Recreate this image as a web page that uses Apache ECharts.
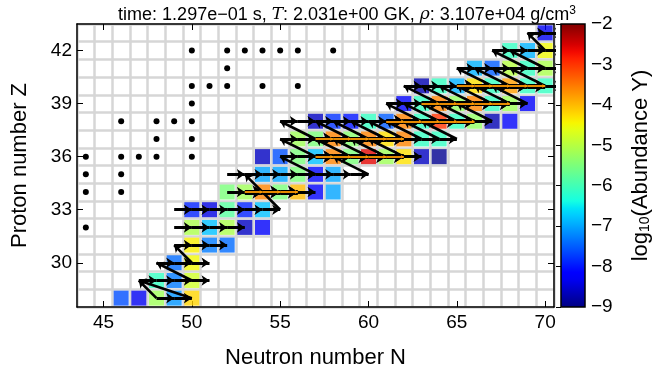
<!DOCTYPE html>
<html>
<head>
<meta charset="utf-8">
<script src="https://cdn.jsdelivr.net/npm/echarts@6/dist/echarts.min.js"></script>
<style>
  html, body { margin: 0; padding: 0; background: #fff; }
  #chart { width: 664px; height: 382px; }
</style>
</head>
<body>
<div id="chart"></div>
<script>
// abundance cells: neutron number, proton number, log10(Y)
const cellN = [46, 47, 48, 49, 50,  48, 49, 50,  49, 50,  50, 51, 52,
  50, 51, 52, 53, 54,  50, 51, 52, 53, 54,  52, 53, 54, 55, 56, 57, 58,
  54, 55, 56, 57, 58,  54, 55, 56, 57, 58, 59, 60, 61, 62, 63, 64,
  56, 57, 58, 59, 60, 61, 62, 63, 64,  57, 58, 59, 60, 61, 62, 63, 64, 65, 66, 67, 68,
  62, 63, 64, 65, 66, 67, 68, 69,  63, 64, 65, 66, 67, 68, 69, 70,
  66, 67, 68, 69, 70,  68, 69, 70,  70]
const cellZ = [28, 28, 28, 28, 28,  29, 29, 29,  30, 30,  31, 31, 31,
  32, 32, 32, 32, 32,  33, 33, 33, 33, 33,  34, 34, 34, 34, 34, 34, 34,
  35, 35, 35, 35, 35,  36, 36, 36, 36, 36, 36, 36, 36, 36, 36, 36,
  37, 37, 37, 37, 37, 37, 37, 37, 37,  38, 38, 38, 38, 38, 38, 38, 38, 38, 38, 38, 38,
  39, 39, 39, 39, 39, 39, 39, 39,  40, 40, 40, 40, 40, 40, 40, 40,
  41, 41, 41, 41, 41,  42, 42, 42,  43]
const cellLogY = [-7.6, -8.3, -5.2, -7.1, -4.2,  -6.1, -7.3, -4.8,  -7.4, -4.5,  -4.4, -7.3, -7.4,
  -5.1, -6.8, -5.1, -8.6, -8.2,  -7.9, -8.4, -5.8, -7.9, -6.8,  -5.5, -5.2, -3.6, -5.5, -4.0, -8.2, -7.0,
  -7.0, -7.0, -5.5, -8.1, -7.0,  -8.6, -7.6, -5.5, -6.8, -3.6, -5.5, -2.6, -5.2, -4.3, -8.6, -8.9,
  -5.2, -5.5, -3.6, -5.4, -3.6, -4.3, -3.6, -6.1, -6.1,  -8.6, -7.8, -8.0, -6.1, -7.5, -3.6, -6.1, -3.0, -6.1, -5.3, -8.7, -8.2,
  -8.2, -6.1, -3.6, -5.3, -3.6, -6.1, -5.2, -8.2,  -8.7, -6.1, -6.9, -4.3, -6.1, -3.8, -6.1, -6.1,
  -6.9, -7.5, -5.0, -6.1, -5.1,  -6.1, -6.9, -4.5,  -8.3]

// stable nuclei (black dots)
const stableN = [44, 46, 47, 48, 50, 48, 50, 46, 48, 49, 50, 50, 50, 51, 52, 54, 56, 52,
  50, 52, 53, 54, 55, 56, 58, 44, 46, 44, 46, 44]
const stableZ = [36, 36, 36, 36, 36, 37, 37, 38, 38, 38, 38, 39, 40, 40, 40, 40, 40, 41,
  42, 42, 42, 42, 42, 42, 42, 35, 35, 34, 34, 32]

// neutron-capture flow rows: proton number, first and last N
const ngZ    = [28, 29, 30, 31, 32, 33, 34, 35, 36, 37, 38, 39, 40, 41, 42, 43]
const ngFrom = [48, 47, 48, 49, 49, 49, 52, 52, 55, 55, 55, 61, 62, 65, 67, 69]
const ngTo   = [50, 51, 51, 52, 53, 55, 57, 60, 63, 65, 67, 69, 71, 71, 71, 71]

// strongest neutron-capture flows (drawn with a filled body)
const strongZ    = [34, 36, 37, 38, 39, 40]
const strongFrom = [53, 57, 57, 61, 63, 65]
const strongTo   = [56, 62, 62, 66, 68, 70]

// decay flows (beta, beta-n, beta-2n): parent N, Z -> daughter N, Z
const decN0 = [48, 50, 50, 50, 55, 57, 60, 57, 59, 60, 61, 62,
  57, 59, 60, 61, 62, 63, 64, 65,  63, 64, 65, 66, 67,
  64, 65, 66, 67, 68, 69,  67, 68, 69, 70,  69, 70,  70]
const decZ0 = [28, 28, 29, 30, 33, 35, 35, 36, 36, 36, 36, 36,
  37, 37, 37, 37, 37, 37, 37, 37,  38, 38, 38, 38, 38,
  39, 39, 39, 39, 39, 39,  40, 40, 40, 40,  41, 41,  42]
const decN1 = [47, 47, 48, 49, 53, 55, 58, 55, 57, 58, 59, 60,
  55, 57, 58, 59, 60, 61, 62, 63,  61, 62, 63, 64, 65,
  62, 63, 64, 65, 66, 67,  65, 66, 67, 68,  67, 68,  69]
const decZ1 = [29, 29, 30, 31, 35, 36, 36, 37, 37, 37, 37, 37,
  38, 38, 38, 38, 38, 38, 38, 38,  39, 39, 39, 39, 39,
  40, 40, 40, 40, 40, 40,  41, 41, 41, 41,  42, 42,  43]

const xTicks = [45, 50, 55, 60, 65, 70]
const yTicks = [30, 33, 36, 39, 42]

function jet(t) {
  const f = (pts) => {
    for (let i = 1; i < pts.length; i++) {
      if (t <= pts[i][0]) {
        const a = pts[i - 1], b = pts[i]
        return a[1] + (b[1] - a[1]) * (t - a[0]) / (b[0] - a[0])
      }
    }
    return pts[pts.length - 1][1]
  }
  const r = f([[0, 0], [0.35, 0], [0.66, 1], [0.89, 1], [1, 0.5]])
  const g = f([[0, 0], [0.125, 0], [0.375, 1], [0.64, 1], [0.91, 0], [1, 0]])
  const b = f([[0, 0.5], [0.11, 1], [0.34, 1], [0.65, 0], [1, 0]])
  const h = (v) => Math.round(v * 255).toString(16).padStart(2, '0')
  return '#' + h(r) + h(g) + h(b)
}
const jetColors = []
for (let i = 0; i <= 40; i++) jetColors.push(jet(i / 40))

const cells = cellN.map((n, i) => [n, cellZ[i], cellLogY[i]])
const stable = stableN.map((n, i) => [n, stableZ[i]])
const rowArrows = (zs, from, to) => {
  const out = []
  zs.forEach((z, i) => {
    for (let n = from[i]; n < to[i]; n++) out.push({ coords: [[n, z], [n + 1, z]] })
  })
  return out
}
const ngLines = rowArrows(ngZ, ngFrom, ngTo)
const strongLines = rowArrows(strongZ, strongFrom, strongTo)
const decLines = decN0.map((n, i) => ({ coords: [[n, decZ0[i]], [decN1[i], decZ1[i]]] }))

const FONT = 'Liberation Sans'
const minus = (v) => String(v).replace('-', '\u2212')

const chart = echarts.init(document.getElementById('chart'))

const gridAxis = (extra) => Object.assign({
  type: 'value',
  gridIndex: 0,
  axisLine: { show: false },
  axisTick: { show: false },
  axisLabel: { show: false },
  splitLine: { show: false },
}, extra)

const flowSeries = (data, width, color, size, z) => ({
  type: 'lines',
  coordinateSystem: 'cartesian2d',
  xAxisIndex: 0, yAxisIndex: 0,
  symbol: ['none', 'arrow'],
  symbolSize: size,
  lineStyle: { color: color, width: width, opacity: 1 },
  data: data,
  z: z,
})

const option = {
  animation: false,
  textStyle: { fontFamily: FONT },
  title: {
    text: '{a|time: 1.297e\u221201 s, }{i|T}{a|: 2.031e+00 GK, }{i|\u03c1}{a|: 3.107e+04 g/cm}{s|3}',
    left: 342,
    textAlign: 'center',
    top: 0,
    textStyle: {
      rich: {
        a: { fontFamily: FONT, fontWeight: 'normal', fontSize: 18, color: '#000' },
        i: { fontFamily: 'DejaVu Serif', fontWeight: 'normal', fontStyle: 'italic', fontSize: 17, color: '#000' },
        s: { fontFamily: FONT, fontWeight: 'normal', fontSize: 12, color: '#000', verticalAlign: 'top', padding: [0, 0, 8, 0] },
      },
    },
  },
  grid: [
    { left: 77, top: 24, width: 477, height: 283 },
    { left: 561, top: 24, width: 24, height: 283 },
  ],
  visualMap: {
    type: 'continuous',
    show: false,
    min: -9,
    max: -2,
    dimension: 2,
    seriesIndex: 0,
    inRange: { color: jetColors },
  },
  xAxis: [
    gridAxis({
      min: 43.5, max: 70.5, interval: 1, position: 'bottom',
      axisLine: { show: true, onZero: false, lineStyle: { color: '#000', width: 1.5 } },
      splitLine: { show: true, lineStyle: { color: '#d6d6d6', width: 2.5 } },
    }),
    gridAxis({
      min: 43.5, max: 70.5, position: 'bottom',
      axisTick: { show: true, inside: true, length: 6, customValues: xTicks, lineStyle: { color: '#000' } },
      axisLabel: { show: true, customValues: xTicks, fontSize: 19, color: '#000', margin: 6, fontFamily: FONT },
      name: 'Neutron number N',
      nameLocation: 'middle',
      nameGap: 40,
      nameTextStyle: { fontSize: 22, color: '#000', fontFamily: FONT },
    }),
    gridAxis({
      min: 43.5, max: 70.5, position: 'top',
      axisLine: { show: true, onZero: false, lineStyle: { color: '#000', width: 1.5 } },
      axisTick: { show: true, inside: true, length: 6, customValues: xTicks, lineStyle: { color: '#000' } },
    }),
    { type: 'value', gridIndex: 1, min: 0, max: 1, show: false },
  ],
  yAxis: [
    gridAxis({
      min: 27.5, max: 43.5, interval: 1, position: 'left',
      axisLine: { show: true, onZero: false, lineStyle: { color: '#000', width: 1.5 } },
      splitLine: { show: true, lineStyle: { color: '#d6d6d6', width: 2.5 } },
    }),
    gridAxis({
      min: 27.5, max: 43.5, position: 'left',
      axisTick: { show: true, inside: true, length: 6, customValues: yTicks, lineStyle: { color: '#000' } },
      axisLabel: { show: true, customValues: yTicks, fontSize: 19, color: '#000', margin: 5, fontFamily: FONT },
      name: 'Proton number Z',
      nameLocation: 'middle',
      nameGap: 46,
      nameTextStyle: { fontSize: 22, color: '#000', fontFamily: FONT },
    }),
    gridAxis({
      min: 27.5, max: 43.5, position: 'right',
      axisLine: { show: true, onZero: false, lineStyle: { color: '#000', width: 1.5 } },
      axisTick: { show: true, inside: true, length: 6, customValues: yTicks, lineStyle: { color: '#000' } },
    }),
    {
      type: 'value', gridIndex: 1, min: -9, max: -2, interval: 1, position: 'right',
      axisLine: { show: false },
      axisTick: { show: true, inside: true, length: 5, lineStyle: { color: '#000' } },
      axisLabel: { fontSize: 19, color: '#000', margin: 6, fontFamily: FONT, formatter: minus },
      splitLine: { show: false },
      name: '{a|log}{b|10}{a|(Abundance Y)}',
      nameLocation: 'middle',
      nameGap: 44,
      nameRotate: 90,
      nameTextStyle: {
        rich: {
          a: { fontSize: 22, color: '#000', fontFamily: FONT },
          b: { fontSize: 14, color: '#000', fontFamily: FONT, verticalAlign: 'bottom', padding: [9, 0, 0, 0] },
        },
      },
    },
  ],
  graphic: [{
    type: 'rect',
    shape: { x: 561, y: 24, width: 24, height: 283 },
    style: {
      fill: {
        type: 'linear', x: 0, y: 1, x2: 0, y2: 0,
        colorStops: jetColors.map((c, i) => ({ offset: i / (jetColors.length - 1), color: c })),
      },
      stroke: '#000',
      lineWidth: 1.5,
    },
    z: 0,
  }],
  series: [
    {
      type: 'scatter',
      xAxisIndex: 0, yAxisIndex: 0,
      symbol: 'rect',
      symbolSize: 15,
      data: cells,
      z: 2,
    },
    {
      type: 'scatter',
      xAxisIndex: 0, yAxisIndex: 0,
      symbol: 'circle',
      symbolSize: 6,
      itemStyle: { color: '#000', opacity: 1 },
      data: stable,
      z: 3,
    },
    flowSeries(decLines, 2.6, '#000', 7, 4),
    flowSeries(ngLines, 2.8, '#000', 8, 5),
    flowSeries(strongLines, 5, '#000', 10, 6),
    flowSeries(strongLines, 1.8, '#ff9a00', 3, 7),
  ],
}

chart.setOption(option)
</script>
</body>
</html>
